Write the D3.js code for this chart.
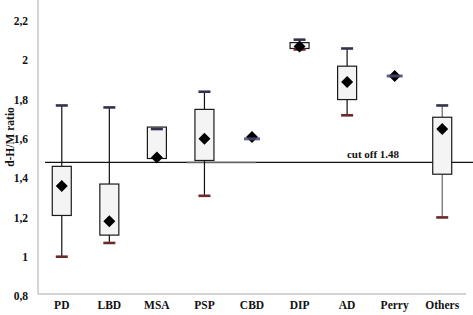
<!DOCTYPE html>
<html>
<head>
<meta charset="utf-8">
<script src="https://cdn.jsdelivr.net/npm/d3@7/dist/d3.min.js"></script>
<style>
  html, body { margin: 0; padding: 0; background: #fff; }
  svg { display: block; }
  text { font-family: "Liberation Serif", "DejaVu Serif", serif; font-weight: bold; fill: #111; }
</style>
</head>
<body>
<svg id="chart" width="473" height="315"></svg>
<script>
const categories = ["PD", "LBD", "MSA", "PSP", "CBD", "DIP", "AD", "Perry", "Others"];
const whiskerMax = [1.77, 1.76, 1.65, 1.84, 1.60, 2.105, 2.06, 1.92, 1.77];
const q3Values   = [1.46, 1.37, 1.66, 1.75, 1.60, 2.09, 1.97, 1.92, 1.71];
const meanValues = [1.36, 1.18, 1.505, 1.60, 1.61, 2.07, 1.89, 1.92, 1.65];
const q1Values   = [1.21, 1.11, 1.50, 1.49, 1.60, 2.06, 1.80, 1.92, 1.42];
const whiskerMin = [1.00, 1.07, 1.50, 1.31, 1.60, 2.055, 1.72, 1.92, 1.20];
const yTicks = [0.8, 1, 1.2, 1.4, 1.6, 1.8, 2, 2.2];
const cutoff = 1.48;
const cutoffLabel = "cut off 1.48";
const yLabel = "d-H/M ratio";

const svg = d3.select("#chart");
const defs = svg.append("defs");
defs.append("filter").attr("id", "soft").attr("x", "-50%").attr("y", "-100%").attr("width", "200%").attr("height", "300%")
  .append("feGaussianBlur").attr("stdDeviation", 0.6);

const x = d3.scaleBand().domain(categories).range([38, 466]);
const y = d3.scaleLinear().domain([0.8, 2.2]).range([296, 21]);
const axisY = 294;

// axes lines
svg.append("line").attr("x1", 38).attr("x2", 38).attr("y1", 0).attr("y2", axisY)
  .attr("stroke", "#c4c4c4").attr("stroke-width", 1.5);
svg.append("line").attr("x1", 38).attr("x2", 466).attr("y1", axisY).attr("y2", axisY)
  .attr("stroke", "#c4c4c4").attr("stroke-width", 1.5);

// y tick labels
const yAxis = d3.axisLeft(y).tickValues(yTicks).tickSize(0).tickPadding(0)
  .tickFormat(d => d3.format("~g")(d).replace(".", ","));
const gy = svg.append("g").attr("transform", "translate(28,0)").call(yAxis);
gy.select(".domain").remove();
gy.selectAll("text").attr("font-size", "11.5px").attr("font-family", "Liberation Serif, serif")
  .attr("font-weight", "bold").attr("fill", "#111");

// x labels
const xAxis = d3.axisBottom(x).tickSize(0).tickPadding(0);
const gx = svg.append("g").attr("transform", "translate(0,301)").call(xAxis);
gx.select(".domain").remove();
gx.selectAll("text").attr("font-size", "11.5px").attr("font-family", "Liberation Serif, serif")
  .attr("font-weight", "bold").attr("fill", "#111");

// y axis title
svg.append("text").attr("transform", `translate(14,${137}) rotate(-90)`)
  .attr("text-anchor", "middle").attr("font-size", "11.5px").attr("font-weight", "bold").text(yLabel);

// cutoff line
svg.append("line").attr("x1", 45).attr("x2", 473).attr("y1", y(cutoff)).attr("y2", y(cutoff))
  .attr("stroke", "#111").attr("stroke-width", 1.2);
svg.append("line").attr("x1", 187).attr("x2", 256).attr("y1", y(cutoff)).attr("y2", y(cutoff))
  .attr("stroke", "#666").attr("stroke-width", 1.4);
svg.append("text").attr("x", 373).attr("y", y(cutoff) - 4).attr("text-anchor", "middle")
  .attr("font-size", "11px").text(cutoffLabel);

const data = categories.map((c, i) => ({
  c, max: whiskerMax[i], q3: q3Values[i], mean: meanValues[i], q1: q1Values[i], min: whiskerMin[i]
}));

const boxW = 19, capW = 12;
const g = svg.append("g").selectAll("g").data(data).join("g")
  .attr("transform", d => `translate(${x(d.c) + x.bandwidth() / 2},0)`);

// whiskers
g.filter(d => d.max > d.q3).append("line").attr("x1", 0).attr("x2", 0)
  .attr("y1", d => y(d.max)).attr("y2", d => y(d.q3))
  .attr("stroke", d => d.c === "Others" ? "#666" : "#111").attr("stroke-width", 1.2);
g.filter(d => d.min < d.q1).append("line").attr("x1", 0).attr("x2", 0)
  .attr("y1", d => y(d.q1)).attr("y2", d => y(d.min))
  .attr("stroke", d => d.c === "Others" ? "#666" : "#111").attr("stroke-width", 1.2);

// boxes
g.filter(d => d.q3 > d.q1).append("rect")
  .attr("x", -boxW / 2).attr("width", boxW)
  .attr("y", d => y(d.q3)).attr("height", d => y(d.q1) - y(d.q3))
  .attr("fill", "#f4f4f4").attr("stroke", "#1a1a1a").attr("stroke-width", 1.2);

// caps
g.filter(d => d.q3 > d.q1).append("rect").attr("x", -capW / 2).attr("width", capW)
  .attr("y", d => y(d.max) - 1.3).attr("height", 2.6)
  .attr("fill", "#33334f").attr("filter", "url(#soft)");
g.filter(d => d.min < d.q1).append("rect").attr("x", -capW / 2).attr("width", capW)
  .attr("y", d => y(d.min) - 1.3).attr("height", 2.6)
  .attr("fill", "#6a2a2a").attr("filter", "url(#soft)");

// mean diamonds
const dm = 6;
g.append("path")
  .attr("d", d => `M0,${y(d.mean) - dm}L${dm},${y(d.mean)}L0,${y(d.mean) + dm}L${-dm},${y(d.mean)}Z`)
  .attr("fill", "#000");

// caps over diamonds for single-value groups
g.filter(d => d.q3 === d.q1).append("rect").attr("x", -8).attr("width", 16)
  .attr("y", d => y(d.max) - 1.5).attr("height", 3)
  .attr("fill", "#4a4a70").attr("opacity", 0.85).attr("filter", "url(#soft)");
</script>
</body>
</html>
